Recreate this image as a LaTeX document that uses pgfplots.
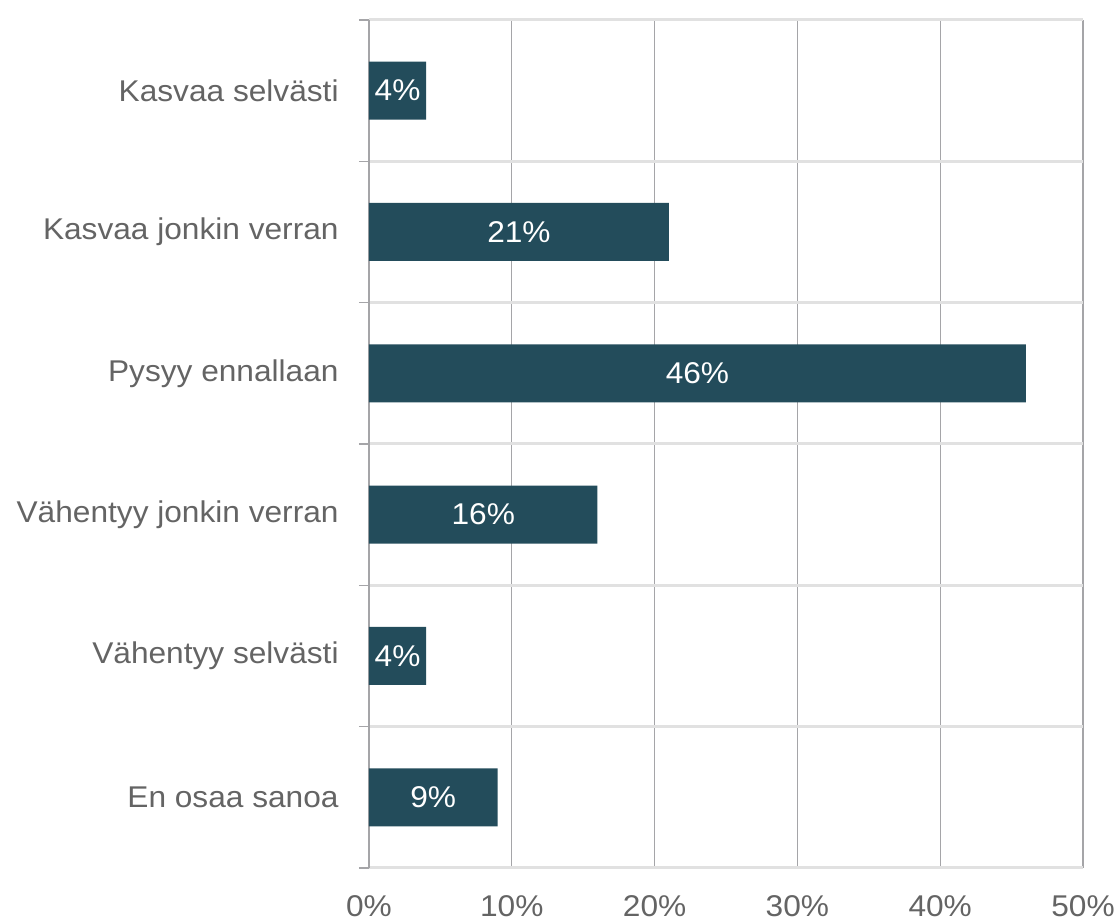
\documentclass[border=0pt]{standalone}
\usepackage{fontspec}
\setmainfont{Liberation Sans}[FakeStretch=1.055]
\usepackage{pgfplots}
\pgfplotsset{compat=1.18}
\definecolor{barcolor}{RGB}{35,76,91}
\definecolor{labelgray}{RGB}{100,100,100}
\definecolor{gridgray}{RGB}{165,165,168}
\definecolor{lightgrid}{RGB}{225,225,225}
\begin{document}
\begin{tikzpicture}
\begin{axis}[
  name=ax,
  scale only axis,
  width=357pt, height=424pt,
  xmin=0, xmax=50, ymin=-0.5, ymax=5.5,
  xbar, bar width=29pt,
  xtick={0,10,20,30,40,50},
  xticklabel={\pgfmathprintnumber{\tick}\%},
  /pgf/number format/assume math mode=true,
  ytick={0,1,2,3,4,5},
  yticklabels={En osaa sanoa, Vähentyy selvästi, Vähentyy jonkin verran, Pysyy ennallaan, Kasvaa jonkin verran, Kasvaa selvästi},
  minor ytick={-0.5,0.5,1.5,2.5,3.5,4.5,5.5},
  yminorgrids, xmajorgrids,
  minor grid style={color=lightgrid, line width=1.5pt},
  major grid style={color=gridgray, line width=0.6pt},
  axis x line*=bottom, axis y line*=left,
  x axis line style={draw=none},
  y axis line style={color=gridgray, line width=0.6pt},
  tick align=outside,
  major tick length=0pt, minor tick length=5pt,
  tick style={color=gridgray, line width=0.6pt},
  tick label style={font=\fontsize{15pt}{18pt}\selectfont, text=labelgray},
  xticklabel style={inner sep=0pt, yshift=-13.5pt},
  yticklabel style={inner sep=0pt, xshift=-15pt},
  visualization depends on={x \as \myx},
  nodes near coords={\pgfmathprintnumber{\pgfplotspointmeta}\%},
  point meta=x,
  every node near coord/.append style={font=\fontsize{15pt}{18pt}\selectfont, text=white, anchor=center, inner sep=0pt, shift={(axis direction cs:-\myx/2,0)}},
]
\addplot[fill=barcolor, draw=none] coordinates {
  (9,0) (4,1) (16,2) (46,3) (21,4) (4,5)
};
\end{axis}
\pgfresetboundingbox
\path ([shift={(-184.5pt,-26pt)}]ax.south west) rectangle ([shift={(375pt,434pt)}]ax.south west);
\end{tikzpicture}
\end{document}
